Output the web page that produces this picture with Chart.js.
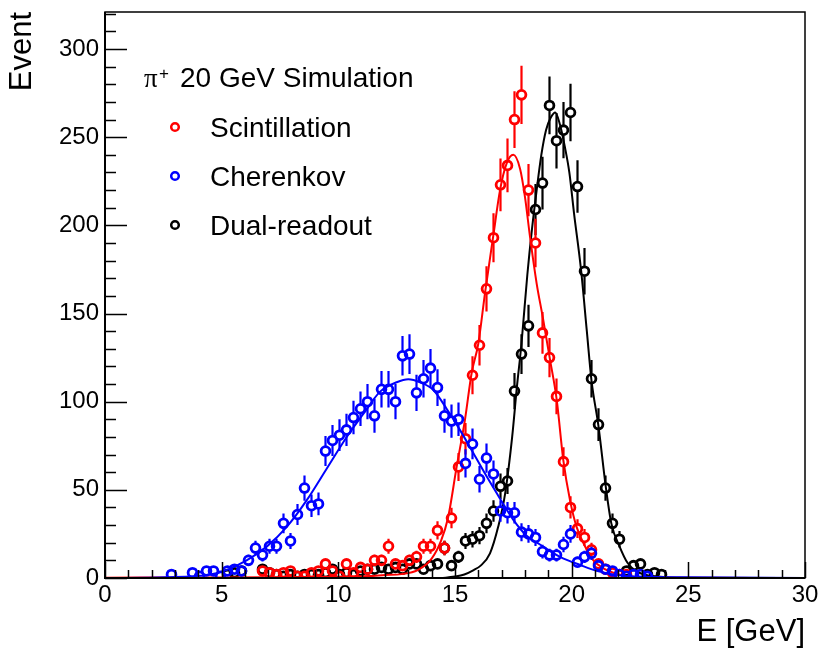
<!DOCTYPE html>
<html>
<head>
<meta charset="utf-8">
<script src="https://cdn.jsdelivr.net/npm/chart.js@4.4.0/dist/chart.umd.min.js"></script>
<style>
  html, body { margin: 0; padding: 0; background: #fff; }
</style>
</head>
<body>
<canvas id="c" width="820" height="651"></canvas>
<script>
// bin centres (GeV), 0.3 GeV bins
const binE = [2.85, 3.15, 3.45, 3.75, 4.05, 4.35, 4.65, 4.95, 5.25, 5.55,
  5.85, 6.15, 6.45, 6.75, 7.05, 7.35, 7.65, 7.95, 8.25, 8.55,
  8.85, 9.15, 9.45, 9.75, 10.05, 10.35, 10.65, 10.95, 11.25, 11.55,
  11.85, 12.15, 12.45, 12.75, 13.05, 13.35, 13.65, 13.95, 14.25, 14.55,
  14.85, 15.15, 15.45, 15.75, 16.05, 16.35, 16.65, 16.95, 17.25, 17.55,
  17.85, 18.15, 18.45, 18.75, 19.05, 19.35, 19.65, 19.95, 20.25, 20.55,
  20.85, 21.15, 21.45, 21.75, 22.05, 22.35, 22.65, 22.95, 23.25, 23.55,
  23.85];

const cherenkov = [2, null, null, 3, 1, 4, 4, 1, 4, 5,
  4, 10, 17, 13, 18, 18, 31, 21, 36, 51,
  41, 42, 72, 78, 81, 84, 91, 96, 100, 92,
  107, 107, 100, 126, 127, 105, 113, 119, 108, 92,
  89, 90, 65, 76, 56, 68, 59, 38, 37, 37,
  26, 25, 23, 15, 13, 13, 19, 25, 9, 12,
  14, 7, 5, 4, 2, 1, 2, 2, 1, null,
  null];

const scint = [null, null, null, null, null, null, null, null, null, null,
  null, null, null, 4, 3, 2, 3, 4, 1, 1,
  3, 4, 8, 4, 1, 8, 3, 6, 5, 10,
  10, 18, 8, 7, 10, 12, 18, 18, 27, 17,
  34, 63, 79, 115, 132, 164, 193, 223, 234, 260,
  274, 220, 190, 139, 125, 103, 66, 40, 28, 23,
  16, 8, 5, 3, 2, 2, null, null, null, null,
  null];

const dual = [null, null, null, null, null, null, null, null, 2, 3,
  4, null, null, 5, 3, 2, 1, 2, 1, 2,
  2, 2, 3, 5, 2, 3, 2, 4, 5, 5,
  6, 5, 6, 5, 8, 8, 5, 7, 8, 17,
  7, 12, 21, 22, 24, 31, 38, 52, 55, 106,
  127, 143, 209, 224, 268, 248, 254, 264, 222, 174,
  113, 87, 51, 31, 22, 4, 7, 8, 2, 3,
  2];

// fit curves
const fitCE = [0, 2.6, 4.5, 5.2, 6.07, 6.93, 7.79, 8.64, 9.5, 10.36, 11.07, 11.79, 12.5, 13.0, 13.5,
  14.07, 14.64, 15.21, 15.79, 16.36, 16.93, 17.5, 18.07, 18.64, 19.5, 20.36, 21.2, 22.36, 24.64, 30];
const fitC = [0, 0.4, 2, 4.5, 10, 17.8, 29, 44, 62, 80, 93, 105.7, 111, 112.7, 111,
  106.6, 96, 84, 70.7, 57.5, 45, 33, 24, 19, 12, 7.4, 3.6, 1.1, 0.4, 0];

const fitSE = [0, 5, 9.6, 11.3, 12, 12.7, 13.4, 14.0, 14.4, 14.7, 15.07, 15.43, 15.71, 16.0, 16.29,
  16.64, 16.93, 17.21, 17.5, 17.79, 18.0, 18.21, 18.5, 18.76, 19.07, 19.36, 19.64, 19.93, 20.21,
  20.57, 20.93, 21.36, 21.93, 22.6, 24, 30];
const fitS = [0.2, 0.3, 0.7, 1.1, 1.7, 2.2, 4.5, 11, 21, 34, 63, 90, 116, 133, 162,
  194, 220, 235, 240, 232, 216, 194, 167, 148, 124, 101, 67, 44, 29,
  18, 10, 5.5, 2.3, 0.7, 0.1, 0];

const fitDE = [0, 14, 14.6, 15, 15.4, 15.8, 16.1, 16.5, 16.85, 17.15, 17.45, 17.65, 17.85, 18.1,
  18.3, 18.5, 18.7, 18.9, 19.1, 19.3, 19.5, 19.7, 19.9, 20.1, 20.4, 20.65, 20.85, 21.15, 21.45,
  21.7, 22.05, 22.4, 22.8, 23.2, 23.8, 24.5, 30];
const fitD = [0, 0, 0.2, 0.8, 2, 4.5, 7, 14, 29, 48, 80, 108, 133, 172,
  198, 220, 240, 254, 261, 264, 257, 245, 230, 207, 175, 140, 112, 86, 53,
  31, 18, 8.5, 3.6, 1.7, 0.7, 0.2, 0];

const xTicks = [0, 5, 10, 15, 20, 25, 30];
const yTicks = [0, 50, 100, 150, 200, 250, 300];
const legendTitle = ['π', '+', '20 GeV Simulation'];
const legendItems = [
  { label: 'Scintillation', color: '#ff0000' },
  { label: 'Cherenkov', color: '#0000ff' },
  { label: 'Dual-readout', color: '#000000' },
];

const FONT = '"Liberation Sans", Arial, Helvetica, sans-serif';
Chart.defaults.font.family = FONT;
Chart.defaults.color = '#000';

const pts = (vals) => binE.map((e, i) => ({ x: e, y: vals[i] })).filter(p => p.y !== null);
const curve = (es, vals) => es.map((e, i) => ({ x: e, y: vals[i] }));

function histSet(label, vals, color, order) {
  return {
    label, data: pts(vals), order, errors: true,
    showLine: false,
    pointStyle: 'circle', pointRadius: 4.4, pointBorderWidth: 2.8,
    borderColor: color, pointBorderColor: color,
    pointBackgroundColor: 'rgba(0,0,0,0)',
  };
}
function fitSet(label, es, vals, color, order) {
  return {
    label, data: curve(es, vals), order,
    showLine: true, pointRadius: 0, borderWidth: 2,
    borderColor: color, backgroundColor: color,
    cubicInterpolationMode: 'monotone', fill: false,
  };
}

const rootStyle = {
  id: 'rootStyle',
  beforeDatasetDraw(chart, args) {
    const ds = chart.data.datasets[args.index];
    if (!ds.errors) return;
    const { ctx, chartArea: a } = chart;
    const y = chart.scales.y, x = chart.scales.x;
    ctx.save();
    ctx.beginPath();
    ctx.rect(a.left, a.top, a.right - a.left, a.bottom - a.top);
    ctx.clip();
    ctx.strokeStyle = ds.borderColor;
    ctx.lineWidth = 2.2;
    const gap = 5;
    ds.data.forEach(p => {
      const e = Math.sqrt(p.y);
      const px = x.getPixelForValue(p.x);
      const py = y.getPixelForValue(p.y);
      const top = y.getPixelForValue(p.y + e);
      const bot = y.getPixelForValue(Math.max(p.y - e, 0));
      ctx.beginPath();
      if (top < py - gap) { ctx.moveTo(px, top); ctx.lineTo(px, py - gap); }
      if (bot > py + gap) { ctx.moveTo(px, py + gap); ctx.lineTo(px, bot); }
      ctx.stroke();
    });
    ctx.restore();
  },
  afterDraw(chart) {
    const { ctx, chartArea: a } = chart;
    const x = chart.scales.x, y = chart.scales.y;
    ctx.save();
    ctx.strokeStyle = '#000';
    // frame
    ctx.lineWidth = 1.5;
    ctx.strokeRect(a.left, a.top, a.right - a.left, a.bottom - a.top);
    ctx.lineWidth = 2;
    ctx.beginPath();
    ctx.moveTo(a.left, a.top); ctx.lineTo(a.left, a.bottom); ctx.lineTo(a.right, a.bottom);
    ctx.stroke();
    // inner ticks
    ctx.lineWidth = 1.5;
    ctx.beginPath();
    for (let v = 0; v <= y.max; v += 10) {
      const py = Math.round(y.getPixelForValue(v)) + 0.5;
      const len = v % 50 === 0 ? 22 : 11;
      ctx.moveTo(a.left, py); ctx.lineTo(a.left + len, py);
    }
    for (let v = x.min; v <= x.max; v += 1) {
      const px = Math.round(x.getPixelForValue(v)) + 0.5;
      const len = v % 5 === 0 ? 16 : 8;
      ctx.moveTo(px, a.bottom); ctx.lineTo(px, a.bottom - len);
    }
    ctx.stroke();

    // legend
    ctx.fillStyle = '#000';
    ctx.textBaseline = 'alphabetic';
    ctx.textAlign = 'left';
    ctx.font = '27px "Liberation Serif", "DejaVu Serif", serif';
    ctx.fillText(legendTitle[0], 144, 87);
    ctx.font = '17px ' + FONT;
    ctx.fillText(legendTitle[1], 159, 79);
    ctx.font = '28px ' + FONT;
    ctx.fillText(legendTitle[2], 180, 87);
    legendItems.forEach((it, i) => {
      const cy = 127 + i * 49;
      ctx.beginPath();
      ctx.strokeStyle = it.color;
      ctx.lineWidth = 2.5;
      ctx.arc(175, cy, 3.8, 0, Math.PI * 2);
      ctx.stroke();
      ctx.fillStyle = '#000';
      ctx.fillText(it.label, 210, cy + 10);
    });
    ctx.restore();
  },
};

new Chart(document.getElementById('c'), {
  type: 'scatter',
  data: {
    datasets: [
      histSet('Dual-readout', dual, '#000000', 5),
      fitSet('Dual fit', fitDE, fitD, '#000000', 4),
      histSet('Scintillation', scint, '#ff0000', 3),
      fitSet('Scint fit', fitSE, fitS, '#ff0000', 2),
      histSet('Cherenkov', cherenkov, '#0000ff', 1),
      fitSet('Cherenkov fit', fitCE, fitC, '#0000ff', 0),
    ],
  },
  options: {
    responsive: false,
    animation: false,
    devicePixelRatio: 1,
    layout: { padding: { left: 0, right: 15, top: 12, bottom: 0 } },
    plugins: { legend: { display: false }, tooltip: { enabled: false } },
    scales: {
      x: {
        type: 'linear', min: 0, max: 30,
        afterFit(s) { s.height = 73; s.paddingLeft = 0; s.paddingRight = 0; },
        afterBuildTicks(s) { s.ticks = xTicks.map(v => ({ value: v })); },
        grid: { display: false, drawTicks: false },
        border: { display: false },
        ticks: { padding: 3, font: { size: 24 }, color: '#000', maxRotation: 0 },
        title: { display: true, text: 'E [GeV]', align: 'end', font: { size: 31 }, color: '#000', padding: 0 },
      },
      y: {
        type: 'linear', min: 0, max: 321,
        afterFit(s) { s.width = 105; s.paddingTop = 0; s.paddingBottom = 0; },
        afterBuildTicks(s) { s.ticks = yTicks.map(v => ({ value: v })); },
        grid: { display: false, drawTicks: false },
        border: { display: false },
        ticks: { padding: 6, font: { size: 24 }, color: '#000' },
        title: { display: true, text: 'Event', align: 'end', font: { size: 31 }, color: '#000', padding: { top: 4, bottom: 0 } },
      },
    },
  },
  plugins: [rootStyle],
});
</script>
</body>
</html>
